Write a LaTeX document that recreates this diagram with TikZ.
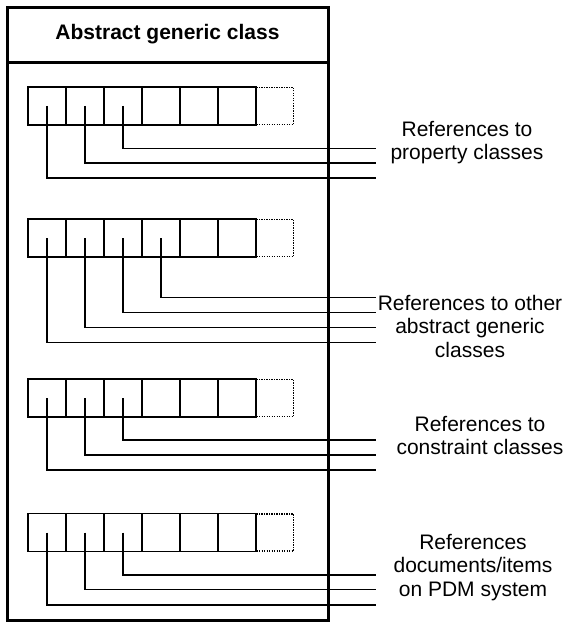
\documentclass[tikz,border=0pt]{standalone}
\usepackage{fontspec}
\setmainfont{Liberation Sans}
\begin{document}
\begin{tikzpicture}[x=1pt,y=-1pt,
  cell/.style={draw, line width=1.4pt, minimum width=38pt, minimum height=38pt, inner sep=0pt},
  ghost/.style={draw, line width=1.3pt, dash pattern=on 1.2pt off 1.3pt, minimum width=37pt, minimum height=37pt, inner sep=0pt},
  wire/.style={line width=1.4pt},
  frame/.style={line width=3pt},
  lbl/.style={align=center, inner sep=0pt, font=\fontsize{21}{23.5}\selectfont},
  title/.style={inner sep=0pt, font=\fontsize{21}{23.5}\selectfont\bfseries}]
\useasboundingbox (0,0) rectangle (568,623);
% outer class box
\node[draw, frame, minimum width=321pt, minimum height=612pt, inner sep=0pt] (box) at (167.5,314) {};
\coordinate (hl) at (7,63);
\coordinate (hr) at (328,63);
\draw[frame] (hl) -- (hr);
\node[title] (head) at (167.5,34) {Abstract generic class};
% cell rows
\foreach \r/\y in {1/106, 2/238, 3/398, 4/532.5} {
  \foreach \c in {1,...,6} {
    \node[cell] (r\r c\c) at ({28+38*(\c-0.5)}, \y) {};
  }
  \node[ghost] (r\r c7) at (275, \y) {};
}
% wire ends
\coordinate (e11) at (375.7,148.7);
\coordinate (e12) at (375.7,163);
\coordinate (e13) at (375.7,178);
\coordinate (e21) at (375.7,297.3);
\coordinate (e22) at (375.7,312.7);
\coordinate (e23) at (375.7,327.7);
\coordinate (e24) at (375.7,342.7);
\coordinate (e31) at (375.7,440);
\coordinate (e32) at (375.7,455);
\coordinate (e33) at (375.7,470);
\coordinate (e41) at (375.7,575);
\coordinate (e42) at (375.7,589.5);
\coordinate (e43) at (375.7,605);
% wires
\draw[wire] (r1c3.center) |- (e11);
\draw[wire] (r1c2.center) |- (e12);
\draw[wire] (r1c1.center) |- (e13);
\draw[wire] (r2c4.center) |- (e21);
\draw[wire] (r2c3.center) |- (e22);
\draw[wire] (r2c2.center) |- (e23);
\draw[wire] (r2c1.center) |- (e24);
\draw[wire] (r3c3.center) |- (e31);
\draw[wire] (r3c2.center) |- (e32);
\draw[wire] (r3c1.center) |- (e33);
\draw[wire] (r4c3.center) |- (e41);
\draw[wire] (r4c2.center) |- (e42);
\draw[wire] (r4c1.center) |- (e43);
% labels
\node[lbl] (l1) at (467,142.5) {References to\\property classes};
\node[lbl] (l2) at (470,326) {References to other\\abstract generic\\classes};
\node[lbl] (l3) at (480,435.5) {References to\\constraint classes};
\node[lbl] (l4) at (473,567.5) {References\\documents/items\\on PDM system};
\end{tikzpicture}
\end{document}
